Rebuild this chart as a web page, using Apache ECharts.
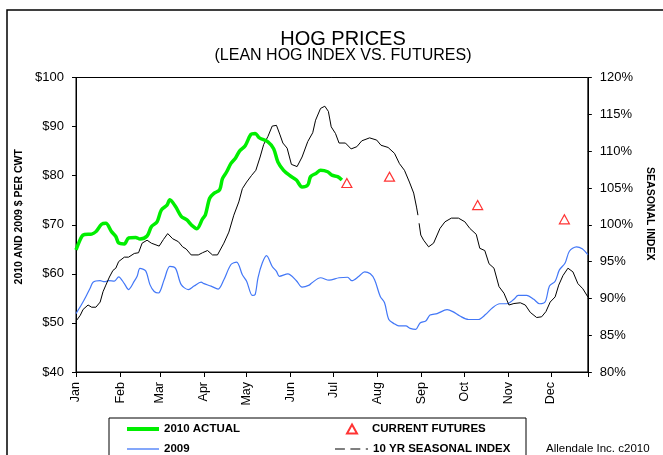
<!DOCTYPE html>
<html>
<head>
<meta charset="utf-8">
<title>Hog Prices</title>
<script src="https://cdn.jsdelivr.net/npm/echarts@6/dist/echarts.min.js"></script>
<style>
  html, body { margin: 0; padding: 0; background: #fff; }
  #chart { width: 663px; height: 455px; }
</style>
</head>
<body>
<div id="chart"></div>
<script>
// x values are day of year (0 = Jan 1)
const monthLabels = ["Jan", "Feb", "Mar", "Apr", "May", "Jun", "Jul", "Aug", "Sep", "Oct", "Nov", "Dec"];
const monthStarts = [0, 31, 59, 90, 120, 151, 181, 212, 243, 273, 304, 334];

// 2010 actual, $ per cwt
const actual2010 = [
  [0, 64.9], [4, 67.6], [6, 68.0], [11, 68.1], [14, 68.6], [18, 70.1], [21, 70.3], [25, 68.6],
  [28, 67.6], [30, 66.3], [34, 66.1], [37, 67.3], [42, 67.4], [45, 67.1], [50, 67.7], [53, 69.6],
  [57, 70.6], [60, 73.0], [64, 74.0], [66, 75.1], [70, 73.7], [74, 71.7], [78, 71.0], [81, 70.0],
  [85, 69.2], [89, 71.2], [91, 72.0], [94, 75.4], [97, 76.4], [101, 77.1], [103, 79.4], [106, 80.8],
  [109, 82.5], [112, 83.5], [115, 85.0], [119, 86.1], [123, 88.4], [126, 88.6], [129, 87.7], [135, 86.9],
  [139, 85.5], [142, 82.8], [146, 81.1], [150, 80.1], [155, 79.1], [159, 77.7], [163, 78.1], [165, 79.8],
  [169, 80.5], [172, 81.1], [177, 80.8], [180, 80.1], [184, 79.8], [187, 79.1]
];

// 2009, $ per cwt
const prices2009 = [
  [0, 51.9], [4, 53.8], [7, 55.4], [10, 57.1], [12, 58.3], [17, 58.6], [20, 58.4], [23, 58.6],
  [27, 58.5], [30, 59.4], [34, 58.0], [37, 56.8], [41, 58.5], [43, 59.5], [45, 61.1], [49, 60.6],
  [52, 57.8], [55, 56.4], [58, 56.1], [62, 58.8], [66, 61.5], [70, 61.1], [74, 57.8], [79, 56.8],
  [83, 57.5], [88, 58.3], [90, 58.0], [95, 57.5], [100, 56.9], [104, 58.8], [109, 61.9], [113, 62.4],
  [117, 59.8], [120, 58.5], [124, 55.6], [126, 55.8], [128, 59.2], [131, 62.2], [134, 63.7], [138, 61.5],
  [141, 60.5], [143, 59.5], [149, 60.0], [155, 58.6], [159, 57.3], [164, 57.7], [166, 58.2], [172, 59.2],
  [178, 58.7], [185, 59.2], [191, 59.3], [194, 58.6], [199, 59.5], [203, 60.4], [207, 60.0], [210, 58.8],
  [214, 55.4], [217, 54.1], [220, 50.7], [224, 49.8], [227, 49.4], [232, 49.4], [235, 48.9], [239, 48.7],
  [242, 50.0], [246, 50.4], [249, 51.6], [254, 51.9], [261, 52.7], [265, 52.3], [270, 51.4], [276, 50.7],
  [283, 50.7], [288, 51.7], [293, 53.1], [298, 53.9], [303, 53.9], [308, 54.8], [311, 55.6], [317, 55.6],
  [322, 54.8], [326, 53.9], [330, 54.3], [333, 57.5], [337, 58.5], [340, 60.8], [344, 62.2], [347, 64.6],
  [352, 65.5], [356, 65.1], [360, 63.9]
];

// 10 yr seasonal index, %
const seasonalIndex = [
  [0, 86.9], [3, 87.7], [5, 88.5], [8.5, 89.1], [11, 88.8], [14, 88.8], [17, 89.5], [19, 90.9],
  [21, 91.8], [23.5, 92.9], [26, 93.8], [28, 94.1], [30, 95.0], [34, 95.6], [37, 95.6], [41, 96.1],
  [44, 96.2], [46.5, 97.5], [50, 97.9], [53, 97.5], [58.5, 97.1], [61.5, 98.0], [64.5, 98.8], [68, 98.1],
  [72, 97.7], [75, 97.0], [77.5, 96.7], [81, 95.9], [86, 95.9], [89, 96.2], [92.5, 96.5], [96, 95.9],
  [99.5, 95.9], [104, 97.5], [107.5, 99.0], [111, 101.3], [114.5, 103.1], [117, 104.9], [120, 105.8], [123.5, 106.7],
  [126.5, 107.4], [129.5, 109.2], [132, 110.9], [135, 112.0], [138, 113.4], [141, 113.5], [143.5, 112.2], [145.5, 111.1],
  [148.5, 110.4], [151.5, 108.2], [155.5, 107.9], [159, 109.2], [163, 111.3], [166.5, 112.5], [168.5, 114.2], [172, 115.8],
  [175, 116.1], [177.5, 115.4], [179.5, 113.3], [182.5, 112.4], [185, 111.1], [189.5, 111.1], [193.5, 110.3], [197.5, 110.6],
  [201, 111.4], [206.5, 111.8], [211.5, 111.5], [214.5, 110.8], [219.5, 110.5], [224, 109.7], [227.5, 108.3], [231, 107.4],
  [234.5, 105.8], [237.5, 104.3], [239.5, 102.4], [240.5, 101.3], null, [241.3, 100.2], [242.5, 98.6], [244.5, 97.9],
  [248, 97.0], [251.5, 97.5], [256, 99.5], [259.5, 100.4], [264, 100.9], [269, 100.9], [273.5, 100.4], [277, 99.5],
  [281.5, 98.7], [284, 96.8], [287.5, 96.5], [290.5, 94.7], [294, 94.1], [297.5, 91.6], [301, 90.7], [304.5, 89.1],
  [308, 89.3], [312.5, 89.4], [316, 89.1], [319.5, 88.1], [324, 87.4], [327.5, 87.5], [330.5, 88.2], [333.5, 89.5],
  [337, 90.2], [339.5, 91.8], [342.5, 93.1], [346, 94.1], [349.5, 93.6], [353, 92.0], [356.5, 91.3], [360, 90.2]
];

// current futures, $ per cwt
const futures = [[190.5, 78.5], [220.5, 79.8], [282.5, 74.0], [343.5, 71.1]];

const chart = echarts.init(document.getElementById("chart"));
const font = "Liberation Sans, Arial, sans-serif";
const legendText = { fontSize: 11.5, fontWeight: "bold", fontFamily: font, color: "#000" };

const legendItem = (name, left, top, w, h, icon, extra) => Object.assign({
  orient: "horizontal",
  left: left,
  top: top,
  padding: 0,
  itemWidth: w,
  itemHeight: h,
  icon: icon,
  textStyle: legendText,
  data: [name]
}, extra || {});

const option = {
  animation: false,
  textStyle: { fontFamily: font, color: "#000" },
  title: [
    {
      text: "HOG PRICES",
      left: 338,
      top: 24,
      textAlign: "center",
      textStyle: { fontSize: 20, fontWeight: "normal", fontFamily: font, color: "#000" }
    },
    {
      text: "(LEAN HOG INDEX VS. FUTURES)",
      left: 338,
      top: 43,
      textAlign: "center",
      textStyle: { fontSize: 16, fontWeight: "normal", fontFamily: font, color: "#000" }
    }
  ],
  graphic: [
    { type: "rect", shape: { x: 7, y: 10, width: 720, height: 520 }, style: { fill: "none", stroke: "#000", lineWidth: 1.5 } },
    { type: "rect", shape: { x: 109, y: 418, width: 417, height: 60 }, style: { fill: "none", stroke: "#000", lineWidth: 1 } },
    { type: "text", left: 546, top: 443, style: { text: "Allendale Inc. c2010", fontSize: 11.5, fontFamily: font, fill: "#000" } }
  ],
  legend: [
    legendItem("2010 ACTUAL", 127, 423, 32, 4, "rect"),
    legendItem("2009", 127, 443, 32, 1.3, "rect"),
    legendItem("CURRENT FUTURES", 346, 423, 10, 9, "triangle", {
      textStyle: Object.assign({}, legendText, { padding: [0, 0, 0, 10] })
    }),
    legendItem("10 YR SEASONAL INDEX", 335, 443, 33, 1.6,
      "path://M0,0h9v1h-9z M14,0h9v1h-9z M28,0h2v1h-2z")
  ],
  grid: {
    left: 76,
    right: 67,
    top: 77.5,
    bottom: 83,
    show: true,
    borderColor: "#000",
    borderWidth: 1,
    containLabel: false
  },
  xAxis: {
    type: "value",
    min: 0,
    max: 360,
    axisLine: { show: true, lineStyle: { color: "#000", width: 1 } },
    axisTick: { show: true, length: 5, customValues: monthStarts.concat([360]), lineStyle: { color: "#000" } },
    axisLabel: {
      customValues: monthStarts,
      rotate: 90,
      margin: 10,
      fontSize: 12.5,
      color: "#000",
      fontFamily: font,
      formatter: (v) => monthLabels[monthStarts.indexOf(v)] || ""
    },
    splitLine: { show: false }
  },
  yAxis: [
    {
      type: "value",
      min: 40,
      max: 100,
      interval: 10,
      name: "2010 AND 2009 $ PER CWT",
      nameLocation: "middle",
      nameGap: 49,
      nameTextStyle: { fontSize: 10.5, fontWeight: "bold", fontFamily: font, color: "#000", padding: [0, 0, 0, 16] },
      axisLine: { show: true, lineStyle: { color: "#000", width: 1 } },
      axisTick: { show: true, length: 4, lineStyle: { color: "#000" } },
      axisLabel: { margin: 12, fontSize: 13, color: "#000", fontFamily: font, formatter: (v) => "$" + v },
      splitLine: { show: false }
    },
    {
      type: "value",
      position: "right",
      min: 80,
      max: 120,
      interval: 5,
      name: "SEASONAL INDEX",
      nameLocation: "middle",
      nameRotate: -90,
      nameGap: 55,
      nameTextStyle: { fontSize: 10.5, fontWeight: "bold", fontFamily: font, color: "#000", padding: [0, 22, 0, 0] },
      axisLine: { show: true, lineStyle: { color: "#000", width: 1 } },
      axisTick: { show: true, length: 4, lineStyle: { color: "#000" } },
      axisLabel: { margin: 12, fontSize: 13, color: "#000", fontFamily: font, formatter: (v) => v + "%" },
      splitLine: { show: false }
    }
  ],
  series: [
    {
      name: "2009",
      type: "line",
      data: prices2009,
      showSymbol: false,
      symbol: "none",
      smooth: 0.3,
      lineStyle: { color: "#4277f7", width: 1.2 },
      itemStyle: { color: "#4277f7" },
      z: 2
    },
    {
      name: "10 YR SEASONAL INDEX",
      type: "line",
      yAxisIndex: 1,
      data: seasonalIndex,
      showSymbol: false,
      symbol: "none",
      connectNulls: false,
      lineStyle: { color: "#000", width: 1 },
      itemStyle: { color: "#000" },
      z: 3
    },
    {
      name: "2010 ACTUAL",
      type: "line",
      data: actual2010,
      showSymbol: false,
      symbol: "none",
      smooth: 0.3,
      lineStyle: { color: "#00ee00", width: 3.5 },
      itemStyle: { color: "#00ee00" },
      z: 4
    },
    {
      name: "CURRENT FUTURES",
      type: "scatter",
      data: futures,
      symbol: "triangle",
      symbolSize: [10, 9],
      itemStyle: { color: "rgba(255,255,255,0)", borderColor: "#ff0000", borderWidth: 1.2 },
      z: 5
    }
  ]
};

chart.setOption(option);
</script>
</body>
</html>
